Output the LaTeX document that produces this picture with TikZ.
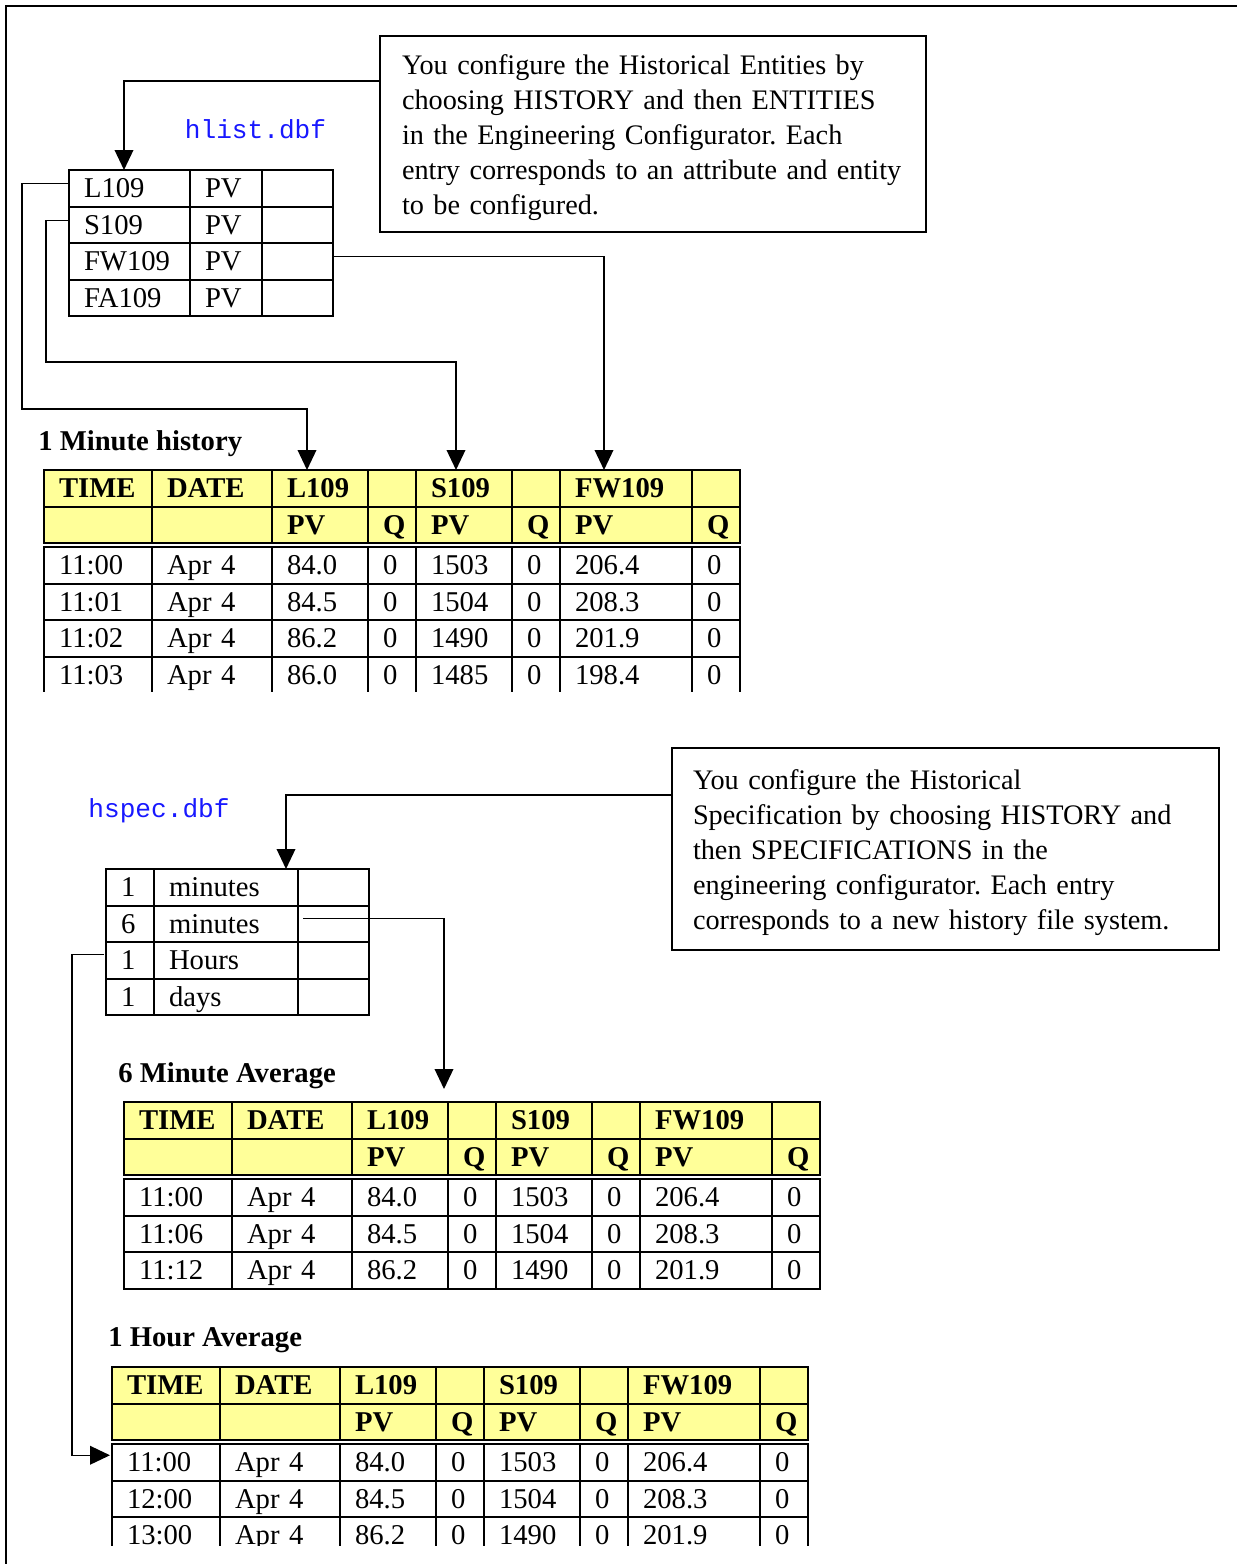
\documentclass[tikz,border=0pt]{standalone}
\usepackage{fontspec}
\setmainfont{Liberation Serif}
\setmonofont{Liberation Mono}
\usetikzlibrary{arrows.meta,calc}

\definecolor{headyellow}{RGB}{255,255,153}
\definecolor{dbfblue}{RGB}{24,24,255}

\frenchspacing
\newcommand{\bodysize}{\fontsize{21.5pt}{26.4pt}\selectfont}
\newcommand{\notesize}{\fontsize{21.2pt}{26.4pt}\selectfont}

% one history table: name, left, top, rows (time/L109/S109/FW109)
\newcommand{\histtable}[4]{%
  \foreach \col/\dx/\w/\ha/\hb in {1/0/108/TIME/{},2/108/120/DATE/{},3/228/96/L109/PV,4/324/48/{}/Q,5/372/96/S109/PV,6/468/48/{}/Q,7/516/132/FW109/PV,8/648/48/{}/Q}{
    \pgfmathsetmacro\tw{\w*0.75-22.5}
    \node[headcell, text width=\tw pt] (#1-h1-\col) at (#2+\dx,#3) {\ha};
    \node[headcell, text width=\tw pt] (#1-h2-\col) at (#2+\dx,#3+36.5) {\hb};
  }
  \foreach \tm/\va/\vb/\vc [count=\row] in {#4}{
    \foreach \col/\dx/\w/\v in {1/0/108/\tm,2/108/120/Apr 4,3/228/96/\va,4/324/48/0,5/372/96/\vb,6/468/48/0,7/516/132/\vc,8/648/48/0}{
      \pgfmathsetmacro\tw{\w*0.75-22.5}
      \node[datacell, text width=\tw pt] (#1-d\row-\col) at (#2+\dx,#3+40.5+36.5*\row) {\v};
    }
  }
}

\begin{document}
\begin{tikzpicture}[x=0.75pt, y=-0.75pt,
        every node/.style={font=\bodysize},
        cell/.style={anchor=north west, outer sep=0pt, inner xsep=11.25pt, inner ysep=0pt, minimum height=27.375pt, text height=17pt, text depth=3pt, align=left, draw=black, line width=1.5pt},
        listcell/.style={cell},
        headcell/.style={cell, fill=headyellow, font=\bodysize\bfseries},
        datacell/.style={cell},
        note/.style={draw=black, line width=1.1pt, anchor=north west, align=left, font=\notesize, inner ysep=0pt, text height=20pt, text depth=110pt, outer sep=0pt},
        tabletitle/.style={anchor=base west, inner sep=0pt, font=\bodysize\bfseries},
        dbfname/.style={anchor=base, inner sep=0pt, text=dbfblue, font=\fontsize{19.6pt}{23pt}\selectfont\ttfamily},
        arrow/.style={-{Triangle[length=15pt, width=14pt]}, line width=1.1pt, draw=black},
        outerframe/.style={line width=1.5pt, draw=black}
        ]
    \useasboundingbox (0,0) rectangle (1237,1564);

    % page frame
    \draw[outerframe] (6,1564) -- (6,6) -- (1237,6);

    % notes
    \node[note, text width=376.5pt, inner xsep=16.5pt, minimum height=147pt] (hent) at (380,36) {You configure the Historical Entities by\\choosing HISTORY and then ENTITIES\\in the Engineering Configurator. Each\\entry corresponds to an attribute and entity\\to be configured.};
    \node[note, text width=378.75pt, inner xsep=15.75pt, minimum height=151.5pt] (hspc) at (672,748) {You configure the Historical\\Specification by choosing HISTORY and\\then SPECIFICATIONS in the\\engineering configurator. Each entry\\corresponds to a new history file system.};

    \node[dbfname] (hlistname) at (255.5,138) {hlist.dbf};
    \node[dbfname] (hspecname) at (159,817) {hspec.dbf};

    % hlist.dbf
    \foreach \tagname [count=\row] in {L109,S109,FW109,FA109}{
        \node[listcell, text width=68.25pt] (hl-\row-1) at (69,133.5+36.5*\row) {\tagname};
        \node[listcell, text width=31.5pt] (hl-\row-2) at (190,133.5+36.5*\row) {PV};
        \node[listcell, text width=30.75pt] (hl-\row-3) at (262,133.5+36.5*\row) {};
    }

    % hspec.dbf
    \foreach \cnt/\tunit [count=\row] in {1/minutes,6/minutes,1/Hours,1/days}{
        \node[listcell, text width=13.5pt] (hs-\row-1) at (106,832.5+36.5*\row) {\cnt};
        \node[listcell, text width=85.5pt] (hs-\row-2) at (154,832.5+36.5*\row) {\tunit};
        \node[listcell, text width=30.75pt] (hs-\row-3) at (298,832.5+36.5*\row) {};
    }

    \node[tabletitle] (min1title) at (38,450) {1 Minute history};
    \node[tabletitle] (min6title) at (118,1082) {6 Minute Average};
    \node[tabletitle] (hr1title) at (108,1346) {1 Hour Average};

    \begin{scope}
        \clip (0,0) rectangle (1237,691);
        \histtable{m}{44}{470}{11:00/84.0/1503/206.4,11:01/84.5/1504/208.3,11:02/86.2/1490/201.9,11:03/86.0/1485/198.4}
    \end{scope}
    \histtable{s}{124}{1102}{11:00/84.0/1503/206.4,11:06/84.5/1504/208.3,11:12/86.2/1490/201.9}
    \begin{scope}
        \clip (0,0) rectangle (1237,1545);
        \histtable{h}{112}{1367}{11:00/84.0/1503/206.4,12:00/84.5/1504/208.3,13:00/86.2/1490/201.9}
    \end{scope}

    % connectors
    \draw[arrow] ($(hent.north west)+(0,45)$) -| ($(hl-1-1.north)+(-5.5,0)$);
    \draw[arrow] ($(hl-1-1.west)+(0,-5)$) -| ($(m-h1-1.north west)+(-22,-61)$) -| ($(m-h1-3.north west)+(35,0)$);
    \draw[arrow] ($(hl-2-1.west)+(0,-4)$) -| ($(m-h1-1.north west)+(2,-108)$) -| ($(m-h1-5.north west)+(40,0)$);
    \draw[arrow] ($(hl-3-3.east)+(0,-5)$) -| ($(m-h1-7.north west)+(44,0)$);

    \draw[arrow] ($(hspc.north west)+(0,47)$) -| ($(hs-1-3.north west)+(-12,0)$);
    \draw[arrow] ($(hs-2-3.west)+(5,-5)$) -| ($(s-h1-3.north east)+(-4,-13)$);
    \draw[arrow] ($(hs-3-1.west)+(-2,-6)$) -| ($(h-d1-1.west)+(-40,-7)$) -- ($(h-d1-1.west)+(-2,-7)$);

\end{tikzpicture}
\end{document}
